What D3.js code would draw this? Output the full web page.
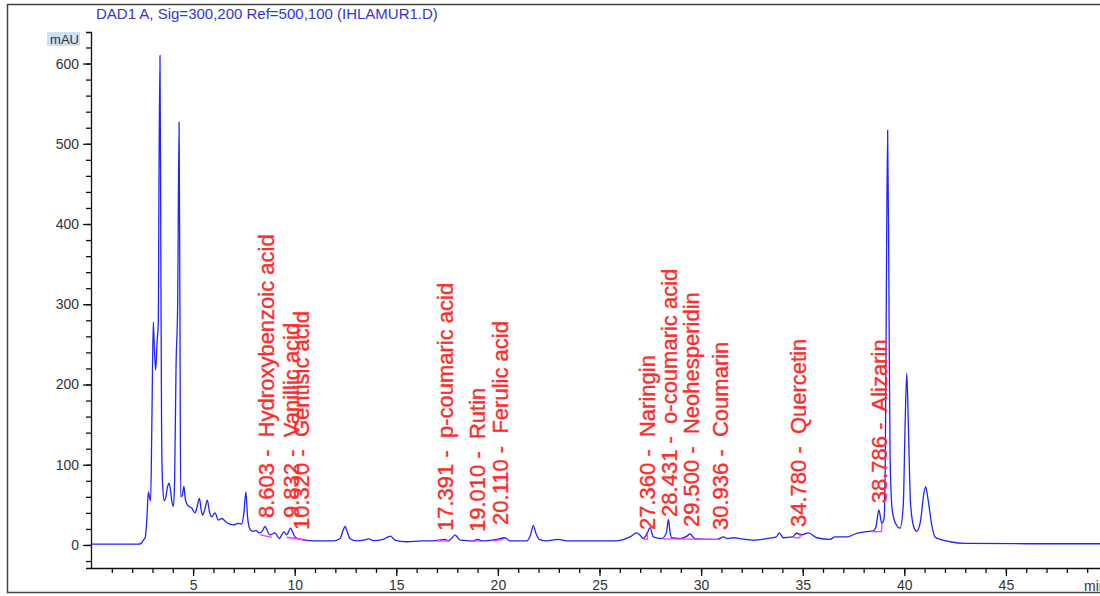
<!DOCTYPE html>
<html lang="en">
<head>
  <meta charset="utf-8">
  <title>DAD1 A chromatogram</title>
  <script src="https://cdn.jsdelivr.net/npm/d3@7"></script>
  <style>
    body { margin: 0; background: #fff; }
    text { font-family: "Liberation Sans", Arial, sans-serif; }
  </style>
</head>
<body>
  <svg class="chart" width="1100" height="596"></svg>
  <script>
    var width = 1100, height = 596;

    // detector trace (time in min, signal in mAU)
    var traceTime = [0, 2.3, 2.45, 2.55, 2.65, 2.72, 2.8, 2.86, 2.91, 2.97, 3.04, 3.1, 3.16, 3.22, 3.29, 3.32, 3.37, 3.41, 3.45, 3.5,
      3.58, 3.66, 3.74, 3.81, 3.88, 3.95, 4.03, 4.09, 4.16, 4.24, 4.31, 4.35, 4.39, 4.47, 4.55, 4.61, 4.68, 4.8, 4.93, 5.09,
      5.2, 5.31, 5.39, 5.47, 5.58, 5.7, 5.8, 5.91, 6.08, 6.24, 6.41, 6.65, 6.98, 7.23, 7.39, 7.5, 7.6, 7.68, 7.76, 7.85,
      7.96, 8.1, 8.25, 8.4, 8.54, 8.65, 8.78, 9.03, 9.24, 9.35, 9.47, 9.6, 9.8, 9.9, 10.02, 10.26, 10.75, 11.2, 11.9, 12.23,
      12.38, 12.48, 12.58, 12.72, 13.05, 13.4, 13.63, 13.87, 14.36, 14.6, 14.72, 14.85, 14.93, 15.51, 16.3, 16.82, 17.4, 17.56, 17.75, 17.89,
      18.0, 18.14, 18.79, 19.0, 19.2, 19.94, 20.35, 20.59, 21.42, 21.6, 21.74, 21.88, 22.04, 22.4, 22.97, 23.4, 25.0, 25.68, 26.2, 26.5,
      26.83, 27.0, 27.16, 27.35, 27.49, 27.65, 28.06, 28.3, 28.39, 28.47, 28.55, 28.96, 29.3, 29.45, 29.7, 30.27, 30.8, 31.1, 31.3, 31.6,
      31.9, 32.57, 33.23, 33.7, 33.85, 34.05, 34.5, 34.7, 34.95, 35.28, 35.7, 36.34, 36.59, 37.17, 37.66, 38.15, 38.48, 38.6, 38.75, 38.89,
      39.0, 39.07, 39.12, 39.18, 39.24, 39.3, 39.4, 39.55, 39.79, 39.95, 40.04, 40.12, 40.2, 40.3, 40.45, 40.61, 40.8, 40.95, 41.05, 41.15,
      41.35, 41.51, 41.76, 42.25, 43.0, 46.0, 50.0];
    var traceMAU = [1, 1, 2, 6, 10, 30, 66, 58, 55, 150, 278, 240, 218, 250, 280, 450, 610, 380, 140, 75,
      55, 60, 72, 77, 70, 55, 48, 80, 222, 300, 527, 300, 60, 62, 73, 58, 52, 48, 46, 40,
      48, 58, 45, 37, 45, 56, 42, 35, 40, 31, 33, 28, 25, 27, 26, 40, 66, 35, 22, 18,
      17, 18, 15, 17, 23, 18, 12.5, 15, 8, 12, 16.6, 12.5, 21, 16, 10, 7, 5.4, 5, 5, 8,
      18, 23, 17, 8, 5, 6, 7.5, 5.5, 7, 10, 11, 8, 6, 4, 5, 5, 7, 5, 9, 12.5,
      10, 6, 5, 7, 5, 7, 9, 5, 5, 12, 24, 14, 7, 5, 7, 5, 5, 5, 7, 10,
      15, 12, 8, 15, 21.6, 10, 8, 16, 32, 16, 9, 8, 11, 13.7, 8, 7, 7, 10, 8, 9,
      8, 6, 8, 10, 15, 9, 10, 14.6, 12.5, 15, 9, 7, 10, 10, 14.6, 16.6, 17.6, 22, 43.6, 27,
      32, 120, 330, 517, 330, 110, 45, 28, 21, 50, 150, 214, 150, 55, 24, 17, 30, 62, 72.6, 60,
      25, 10, 7, 4, 2, 1.5, 1.5];

    // identified peaks
    var peakTimes = [8.603, 9.832, 10.320, 17.391, 19.010, 20.110, 27.360, 28.431, 29.500, 30.936, 34.780, 38.786];
    var peakNames = ["Hydroxybenzoic acid", "Vanillic acid", "Gentisic acid", "p-coumaric acid", "Rutin", "Ferulic acid",
                     "Naringin", "o-coumaric acid", "Neohesperidin", "Coumarin", "Quercetin", "Alizarin"];
    var labelAt = [33.6, 33.6, 18.7, 17.4, 16.2, 25, 18.7, 35, 22.4, 18.7, 22.4, 52];

    // integration baselines [t0, mAU0, t1, mAU1]
    var baselines = [[8.3, 12.5, 8.87, 9.6], [9.6, 9.6, 10.6, 6.2], [16.99, 5, 17.56, 5], [18.6, 5, 19.1, 5],
                     [19.77, 5, 20.27, 7], [27.2, 7, 27.36, 7], [27.36, 7, 27.36, 15], [28.14, 7.5, 30.85, 7],
                     [34.54, 9, 34.87, 9], [34.87, 9, 34.87, 15], [38.39, 16.6, 38.89, 16.6], [38.89, 16.6, 38.89, 27]];

    var data = traceTime.map(function(t, i) { return { t: t, v: traceMAU[i] }; });

    var x = d3.scaleLinear().domain([0, 50]).range([91.5, 1107.5]);
    var y = d3.scaleLinear().domain([-28.7, 639.3]).range([568, 32]);

    var svg = d3.select("svg.chart");

    // outer frame
    svg.append("rect")
       .attr("x", 7.5).attr("y", 4.5)
       .attr("width", 1200).attr("height", 588)
       .attr("fill", "none").attr("stroke", "#444").attr("stroke-width", 1.5);

    svg.append("text")
       .attr("x", 96).attr("y", 19)
       .attr("font-size", 15).attr("fill", "#3434d6")
       .text("DAD1 A, Sig=300,200 Ref=500,100 (IHLAMUR1.D)");

    // y axis: majors every 100, minors every 20
    var yMinor = svg.append("g").attr("transform", "translate(91,0)")
       .call(d3.axisLeft(y).tickValues(d3.range(-20, 640, 20)).tickSize(5).tickFormat(""));
    yMinor.select(".domain").remove();
    var yAxis = svg.append("g").attr("transform", "translate(91,0)")
       .call(d3.axisLeft(y).tickValues(d3.range(0, 700, 100)).tickSize(8).tickSizeOuter(5).tickPadding(4));
    yAxis.selectAll("text").attr("font-size", 14).attr("fill", "#333").attr("font-family", null);

    svg.append("rect").attr("x", 47).attr("y", 32).attr("width", 33).attr("height", 14).attr("fill", "#cfe0f6");
    svg.append("text").attr("x", 79).attr("y", 44).attr("text-anchor", "end")
       .attr("font-size", 13).attr("fill", "#333").text("mAU");

    // x axis: majors every 5, minors every 1
    var xMinor = svg.append("g").attr("transform", "translate(0,568)")
       .call(d3.axisBottom(x).tickValues(d3.range(1, 50, 1)).tickSize(5).tickFormat(""));
    xMinor.select(".domain").remove();
    var xAxis = svg.append("g").attr("transform", "translate(0,568)")
       .call(d3.axisBottom(x).tickValues(d3.range(5, 50, 5)).tickSize(8).tickSizeOuter(0).tickPadding(4));
    xAxis.selectAll("text").attr("font-size", 14).attr("fill", "#333").attr("font-family", null);
    svg.selectAll(".domain, .tick line").attr("stroke", "#111").attr("stroke-width", 1.3);

    // unit label, clipped by the right edge as in the original printout
    svg.append("text").attr("x", 1084).attr("y", 591)
       .attr("font-size", 14).attr("fill", "#333").text("min");

    // trace
    var line = d3.line()
                 .curve(d3.curveMonotoneX)
                 .x(function(d) { return x(d.t); })
                 .y(function(d) { return y(d.v); });

    svg.append("path")
       .datum(data)
       .attr("d", line)
       .attr("fill", "none")
       .attr("stroke", "#2222ff")
       .attr("stroke-width", 1.3);

    svg.selectAll("line.base")
       .data(baselines)
       .enter().append("line")
       .attr("class", "base")
       .attr("x1", function(d) { return x(d[0]); })
       .attr("y1", function(d) { return y(d[1]); })
       .attr("x2", function(d) { return x(d[2]); })
       .attr("y2", function(d) { return y(d[3]); })
       .attr("stroke", "#ff33ff").attr("stroke-width", 1.3);

    svg.selectAll("text.peak")
       .data(peakTimes)
       .enter().append("text")
       .attr("class", "peak")
       .attr("transform", function(d, i) { return "translate(" + x(d) + "," + y(labelAt[i]) + ") rotate(-90)"; })
       .attr("dy", "0.35em")
       .attr("font-size", 22)
       .attr("fill", "#ff2a2a")
       .attr("stroke", "#ff2a2a")
       .attr("stroke-width", 0.35)
       .style("white-space", "pre")
       .text(function(d, i) { return d.toFixed(3) + " -  " + peakNames[i]; });
  </script>
</body>
</html>
